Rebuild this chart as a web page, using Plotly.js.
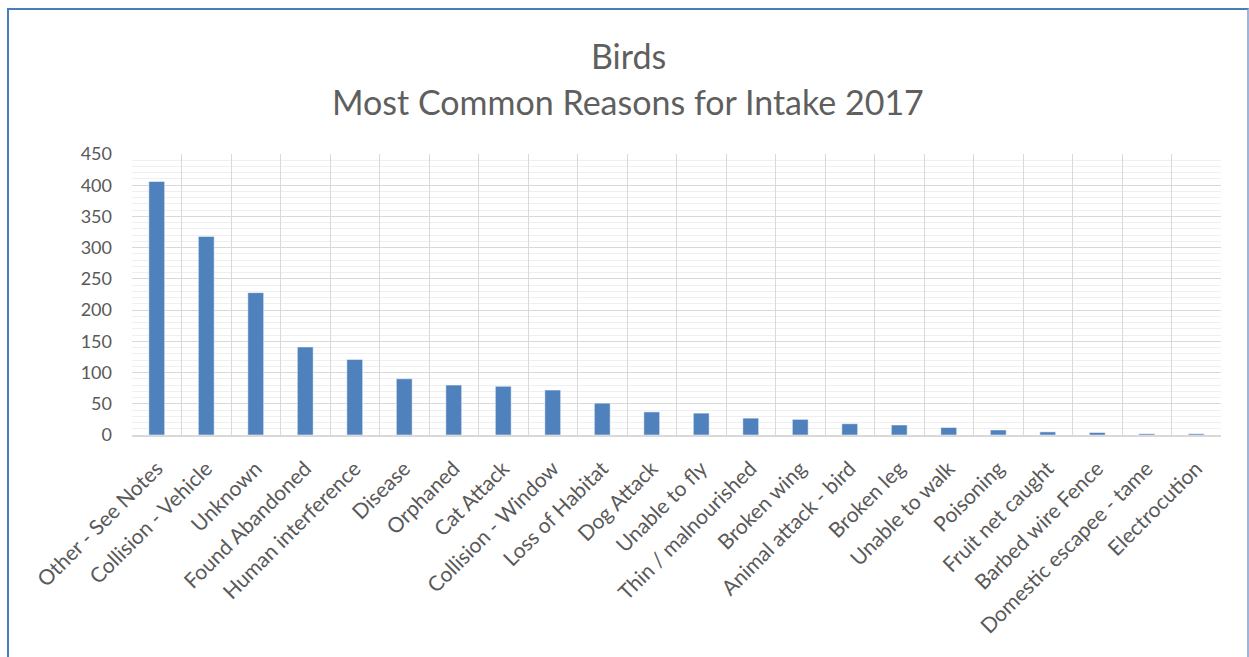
<!DOCTYPE html>
<html>
<head>
<meta charset="utf-8">
<script src="https://cdn.plot.ly/plotly-3.0.1.min.js"></script>
<style>
  html, body { margin: 0; padding: 0; background: #ffffff; overflow: hidden; }
  #frame {
    position: absolute; left: 7px; top: 8px; width: 1238px; height: 700px;
    border-left: 2px solid #4a7ebb; border-top: 2px solid #4a7ebb;
    border-right: 2px solid #9db5d8;
  }
  #chart { position: absolute; left: 0; top: 0; width: 1249px; height: 657px; }
</style>
</head>
<body>
<div id="frame"></div>
<div id="chart"></div>
<script>
// Intake reasons for birds, 2017, ordered by count
const reasons = [
  "Other - See Notes", "Collision - Vehicle", "Unknown", "Found Abandoned",
  "Human interference", "Disease", "Orphaned", "Cat Attack",
  "Collision - Window", "Loss of Habitat", "Dog Attack", "Unable to fly",
  "Thin / malnourished", "Broken wing", "Animal attack - bird", "Broken leg",
  "Unable to walk", "Poisoning", "Fruit net caught", "Barbed wire Fence",
  "Domestic escapee - tame", "Electrocution"
];
const counts = [406, 318, 228, 141, 121, 90, 80, 78, 72, 51, 37, 35, 27, 25, 18, 16, 12, 8, 5, 4, 2, 2];
const titleLines = ["Birds", "Most Common Reasons for Intake 2017"];
const yTicks = [0, 50, 100, 150, 200, 250, 300, 350, 400, 450];

const textGrey = "#595959";
const titleGrey = "#5f5f5f";
const font = "Lato, 'Open Sans', sans-serif";

const trace = {
  type: "bar",
  x: reasons,
  y: counts,
  marker: { color: "#4f81bd", line: { color: "#ffffff", width: 0.5 } },
  hoverinfo: "x+y"
};

const layout = {
  width: 1249,
  height: 657,
  margin: { l: 132, r: 28, t: 154, b: 222 },
  paper_bgcolor: "rgba(0,0,0,0)",
  plot_bgcolor: "#ffffff",
  showlegend: false,
  bargap: 0.68,
  font: { family: font, color: textGrey },
  xaxis: {
    type: "category",
    tickangle: -45,
    tickson: "boundaries",
    ticks: "",
    ticklabelshift: 0,
    ticklabelstandoff: 11,
    showgrid: true,
    gridcolor: "#d9d9d9",
    gridwidth: 1,
    showline: true,
    linecolor: "#d9d9d9",
    linewidth: 2,
    mirror: false,
    tickfont: { family: font, size: 21, color: textGrey },
    fixedrange: true
  },
  yaxis: {
    range: [0, 450],
    tickvals: yTicks,
    ticktext: yTicks.map(String),
    ticks: "",
    ticklabelstandoff: 19,
    showgrid: true,
    gridcolor: "#d9d9d9",
    gridwidth: 1,
    zeroline: false,
    showline: false,
    minor: { dtick: 10, showgrid: true, gridcolor: "#efefef", gridwidth: 1 },
    tickfont: { family: font, size: 18, color: textGrey },
    fixedrange: true
  },
  annotations: [
    {
      text: titleLines[0], xref: "paper", yref: "paper",
      x: 0.4555, y: 1.352, xanchor: "center", yanchor: "middle",
      showarrow: false, font: { family: font, size: 34, color: titleGrey }
    },
    {
      text: titleLines[1], xref: "paper", yref: "paper",
      x: 0.4555, y: 1.1886, xanchor: "center", yanchor: "middle",
      showarrow: false, font: { family: font, size: 34, color: titleGrey }
    }
  ]
};

Plotly.newPlot("chart", [trace], layout, { displayModeBar: false, staticPlot: true });
</script>
</body>
</html>
